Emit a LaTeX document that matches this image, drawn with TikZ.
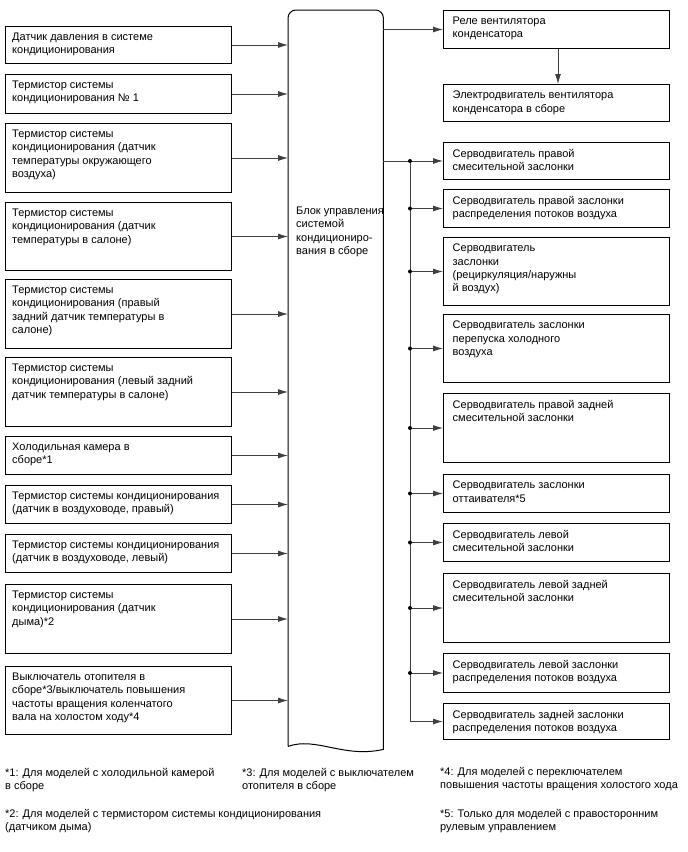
\documentclass[tikz,border=0pt]{standalone}
\usepackage{fontspec}
\setmainfont{Liberation Sans}
\usetikzlibrary{arrows.meta,calc}
\newcommand\mybox[6]{%
  \node[box, minimum width=#5pt, minimum height=#4pt-#3pt] (#1) at (#2,#3) {};
}
\begin{document}
\begin{tikzpicture}[x=1pt,y=-1pt,
  box/.style={draw=black, line width=1pt, anchor=north west, inner sep=0pt},
  txt/.style={anchor=north west, inner sep=0pt, align=left, font=\fontsize{11}{13.2}\selectfont},
  conn/.style={draw=black!75, line width=0.9pt},
  arr/.style={conn, -{Latex[length=10pt,width=6pt]}},
  jdot/.style={circle, fill=black, inner sep=0pt, minimum size=4pt},
]
\useasboundingbox (0,0) rectangle (688,852);
% left boxes
\mybox{L1}{5}{26}{63}{226}{}
\mybox{L2}{5}{74}{113}{226}{}
\mybox{L3}{5}{123}{192}{226}{}
\mybox{L4}{5}{202}{270}{226}{}
\mybox{L5}{5}{279}{348}{226}{}
\mybox{L6}{5}{357}{426}{226}{}
\mybox{L7}{5}{436}{474}{226}{}
\mybox{L8}{5}{485}{523}{226}{}
\mybox{L9}{5}{534}{572}{226}{}
\mybox{L10}{5}{584}{653}{226}{}
\mybox{L11}{5}{666}{734}{226}{}
% right boxes
\mybox{R1}{443}{10}{48}{226}{}
\mybox{R2}{443}{84}{121}{226}{}
\mybox{R3}{443}{142}{179}{226}{}
\mybox{R4}{443}{189}{227}{226}{}
\mybox{R5}{443}{237}{305}{226}{}
\mybox{R6}{443}{314}{382}{226}{}
\mybox{R7}{443}{393}{462}{226}{}
\mybox{R8}{443}{474}{512}{226}{}
\mybox{R9}{443}{523}{561}{226}{}
\mybox{R10}{443}{573}{642}{226}{}
\mybox{R11}{443}{653}{692}{226}{}
\mybox{R12}{443}{703}{739}{226}{}
% left texts
\node[txt] (tL1) at ([xshift=7pt,yshift=-7pt]L1.north west) {Датчик давления в системе\\кондиционирования};
\node[txt] (tL2) at ([xshift=7pt,yshift=-7pt]L2.north west) {Термистор системы\\кондиционирования № 1};
\node[txt] (tL3) at ([xshift=7pt,yshift=-7pt]L3.north west) {Термистор системы\\кондиционирования (датчик\\температуры окружающего\\воздуха)};
\node[txt] (tL4) at ([xshift=7pt,yshift=-7pt]L4.north west) {Термистор системы\\кондиционирования (датчик\\температуры в салоне)};
\node[txt] (tL5) at ([xshift=7pt,yshift=-7pt]L5.north west) {Термистор системы\\кондиционирования (правый\\задний датчик температуры в\\салоне)};
\node[txt] (tL6) at ([xshift=7pt,yshift=-7pt]L6.north west) {Термистор системы\\кондиционирования (левый задний\\датчик температуры в салоне)};
\node[txt] (tL7) at ([xshift=7pt,yshift=-7pt]L7.north west) {Холодильная камера в\\сборе*1};
\node[txt] (tL8) at ([xshift=7pt,yshift=-7pt]L8.north west) {Термистор системы кондиционирования\\(датчик в воздуховоде, правый)};
\node[txt] (tL9) at ([xshift=7pt,yshift=-7pt]L9.north west) {Термистор системы кондиционирования\\(датчик в воздуховоде, левый)};
\node[txt] (tL10) at ([xshift=7pt,yshift=-7pt]L10.north west) {Термистор системы\\кондиционирования (датчик\\дыма)*2};
\node[txt] (tL11) at ([xshift=7pt,yshift=-7pt]L11.north west) {Выключатель отопителя в\\сборе*3/выключатель повышения\\частоты вращения коленчатого\\вала на холостом ходу*4};
% right texts
\node[txt] (tR1) at ([xshift=9.5pt,yshift=-7pt]R1.north west) {Реле вентилятора\\конденсатора};
\node[txt] (tR2) at ([xshift=9.5pt,yshift=-7pt]R2.north west) {Электродвигатель вентилятора\\конденсатора в сборе};
\node[txt] (tR3) at ([xshift=9.5pt,yshift=-7pt]R3.north west) {Серводвигатель правой\\смесительной заслонки};
\node[txt] (tR4) at ([xshift=9.5pt,yshift=-7pt]R4.north west) {Серводвигатель правой заслонки\\распределения потоков воздуха};
\node[txt] (tR5) at ([xshift=9.5pt,yshift=-7pt]R5.north west) {Серводвигатель\\заслонки\\(рециркуляция/наружны\\й воздух)};
\node[txt] (tR6) at ([xshift=9.5pt,yshift=-7pt]R6.north west) {Серводвигатель заслонки\\перепуска холодного\\воздуха};
\node[txt] (tR7) at ([xshift=9.5pt,yshift=-7pt]R7.north west) {Серводвигатель правой задней\\смесительной заслонки};
\node[txt] (tR8) at ([xshift=9.5pt,yshift=-7pt]R8.north west) {Серводвигатель заслонки\\оттаивателя*5};
\node[txt] (tR9) at ([xshift=9.5pt,yshift=-7pt]R9.north west) {Серводвигатель левой\\смесительной заслонки};
\node[txt] (tR10) at ([xshift=9.5pt,yshift=-7pt]R10.north west) {Серводвигатель левой задней\\смесительной заслонки};
\node[txt] (tR11) at ([xshift=9.5pt,yshift=-7pt]R11.north west) {Серводвигатель левой заслонки\\распределения потоков воздуха};
\node[txt] (tR12) at ([xshift=9.5pt,yshift=-7pt]R12.north west) {Серводвигатель задней заслонки\\распределения потоков воздуха};
% central block
\node[anchor=north west, inner sep=0pt, minimum width=95pt, minimum height=736pt] (blk) at (288,10) {};
\draw[line width=1pt] (blk.south west) -- ([yshift=-8pt]blk.north west)
  arc[start angle=180, end angle=90, radius=8pt] -- ([xshift=-8pt]blk.north east)
  arc[start angle=90, end angle=0, radius=8pt] -- ([yshift=-3pt]blk.south east)
  .. controls ([xshift=-40pt,yshift=-12pt]blk.south east) and ([xshift=28pt,yshift=10pt]blk.south west) .. (blk.south west);
\node[txt] (tblk) at (296,207) {Блок управления\\системой\\кондициониро-\\вания в сборе};
% inputs
\foreach \i in {1,...,11} {
  \draw[arr] (L\i.east) -- (L\i.east -| blk.west);
}
% outputs
\draw[arr] (R1.west -| blk.east) -- (R1.west);
\draw[arr] (R1.south -| 558,0) -- (R2.north -| 558,0);
\coordinate (bus) at (410,0);
\draw[arr] (R3.west -| blk.east) -- (R3.west);
\draw[conn] (R3.west -| bus) -- (R12.west -| bus);
\draw[arr] (R12.west -| bus) -- (R12.west);
\node[jdot] (j3) at (R3.west -| bus) {};
\foreach \i in {4,...,11} {
  \draw[arr] (R\i.west -| bus) -- (R\i.west);
  \node[jdot] (j\i) at (R\i.west -| bus) {};
}
% footnotes
\node[txt] (f1) at (5,768) {*1: Для моделей с холодильной камерой\\в сборе};
\node[txt] (f3) at (242,768) {*3: Для моделей с выключателем\\отопителя в сборе};
\node[txt] (f4) at (440,767) {*4: Для моделей с переключателем\\повышения частоты вращения холостого хода};
\node[txt] (f2) at (5,809) {*2: Для моделей с термистором системы кондиционирования\\(датчиком дыма)};
\node[txt] (f5) at (440,809) {*5: Только для моделей с правосторонним\\рулевым управлением};
\end{tikzpicture}
\end{document}
